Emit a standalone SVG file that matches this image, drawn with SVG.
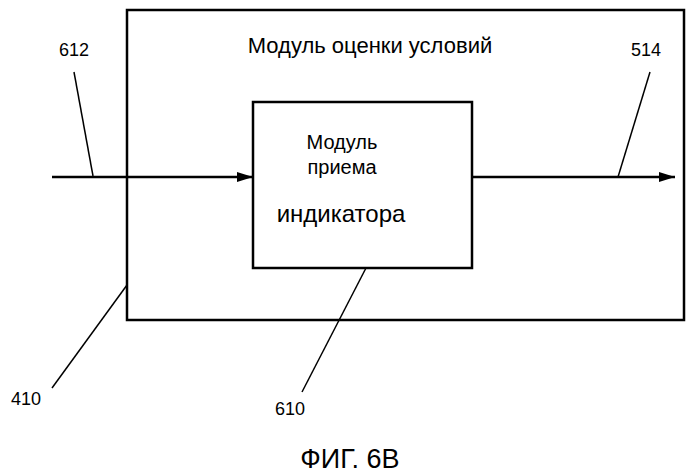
<svg xmlns="http://www.w3.org/2000/svg" width="700" height="476" viewBox="0 0 700 476">
<style>
.b{fill:none;stroke:#000;stroke-width:2.5}
.l{stroke:#000;stroke-width:1.5;fill:none}
.c{stroke:#000;stroke-width:2.5;fill:none}
text{font-family:"Liberation Sans",Arial,sans-serif;fill:#000}
.n{font-size:18px}
</style>
<defs><marker id="a" markerWidth="16" markerHeight="10" refX="16" refY="5" orient="auto" markerUnits="userSpaceOnUse"><path d="M0,0 L16,5 L0,10 Z" fill="#000"/></marker></defs>
<rect width="700" height="476" fill="#fff"/>
<g id="outer"><rect class="b" x="127" y="10" width="557" height="310"/><text x="370" y="53" font-size="22" text-anchor="middle">Модуль оценки условий</text></g>
<g id="inner"><rect class="b" x="253" y="102" width="219" height="166"/>
<text x="342" y="149" font-size="20" text-anchor="middle">Модуль</text>
<text x="342" y="174" font-size="20" text-anchor="middle">приема</text>
<text x="341" y="222" font-size="24" text-anchor="middle">индикатора</text></g>
<g id="connectors">
<line class="c" x1="52" y1="177" x2="253" y2="177" marker-end="url(#a)"/>
<line class="c" x1="472" y1="177" x2="675" y2="177" marker-end="url(#a)"/>
<line class="l" x1="74" y1="72" x2="93" y2="176"/>
<line class="l" x1="650" y1="72" x2="618" y2="177"/>
<line class="l" x1="52" y1="388" x2="127" y2="285"/>
<line class="l" x1="302" y1="392" x2="366" y2="268"/>
</g>
<g id="labels">
<text class="n" x="74" y="56" text-anchor="middle">612</text>
<text class="n" x="646" y="56" text-anchor="middle">514</text>
<text class="n" x="26" y="405" text-anchor="middle">410</text>
<text class="n" x="290" y="415" text-anchor="middle">610</text>
<text x="350" y="468" font-size="27" text-anchor="middle">ФИГ. 6В</text>
</g>
</svg>
